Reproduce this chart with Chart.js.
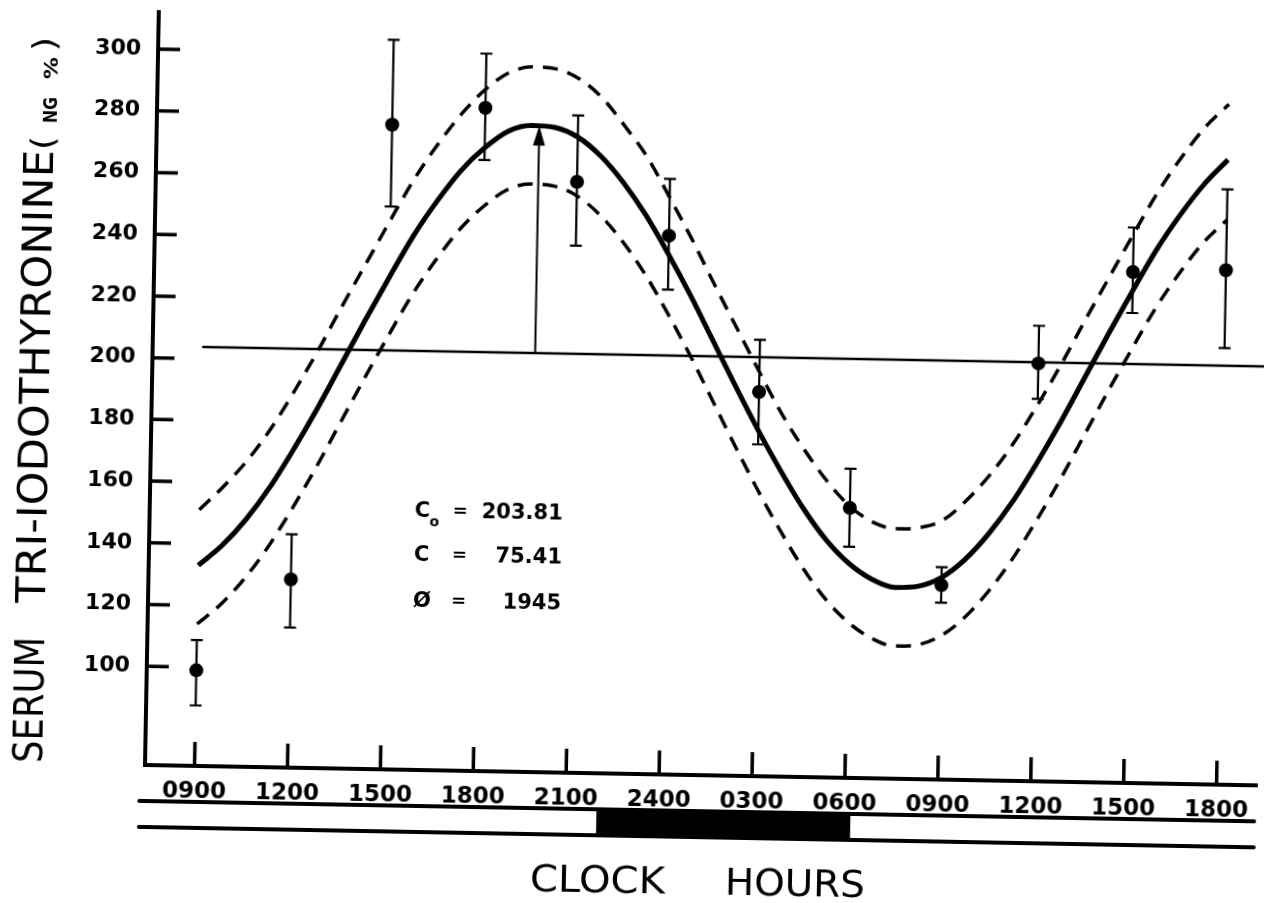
<!DOCTYPE html>
<html>
<head>
<meta charset="utf-8">
<script src="https://cdn.jsdelivr.net/npm/chart.js@4.4.0/dist/chart.umd.min.js"></script>
<style>
    html, body { margin: 0; padding: 0; background: #fff; overflow: hidden; }
    /* the scanned figure sits a little askew, so the canvas is turned to match */
    #t3Chart { display: block; transform: rotate(1.05deg); transform-origin: 145px 765px; }
</style>
</head>
<body>
<canvas id="t3Chart" width="1264" height="903"></canvas>
<script>
// clock hours counted from 0000 of day 1 (0900 = 9, next day 0900 = 33)
const tickHours = [9, 12, 15, 18, 21, 24, 27, 30, 33, 36, 39, 42]
const tickLabels = ['0900', '1200', '1500', '1800', '2100', '2400', '0300', '0600', '0900', '1200', '1500', '1800']
const yTicks = [100, 120, 140, 160, 180, 200, 220, 240, 260, 280, 300]

// measured serum T3 (ng %), mean with bar ends
const sampleHours = [9, 12, 15, 18, 21, 24, 27, 30, 33, 36, 39, 42]
const meanT3 = [99.0, 129.0, 276.9, 282.9, 259.5, 242.6, 192.5, 155.5, 131.0, 203.4, 233.6, 234.7]
const barHigh = [108.8, 143.6, 304.4, 300.5, 281.0, 261.0, 209.4, 168.2, 136.8, 215.6, 248.0, 260.9]
const barLow = [87.6, 113.4, 250.4, 266.0, 238.8, 225.1, 175.5, 142.9, 125.3, 191.9, 220.3, 209.5]

// fitted cosine and the dashed band, every 0.75 h
const fitHours = [9, 9.75, 10.5, 11.25, 12, 12.75, 13.5, 14.25, 15, 15.75, 16.5, 17.25, 18, 18.75, 19.5, 20.25,
    21, 21.75, 22.5, 23.25, 24, 24.75, 25.5, 26.25, 27, 27.75, 28.5, 29.25, 30, 30.75, 31.5, 32.25,
    33, 33.75, 34.5, 35.25, 36, 36.75, 37.5, 38.25, 39, 39.75, 40.5, 41.25, 42]
const fitCurve = [133, 139.5, 148, 158.5, 171, 184.5, 199, 213.5, 227.5, 241, 252.5, 262.5, 270, 275.5, 277.5, 277,
    274, 268, 259.5, 249, 236.5, 223, 208.5, 194, 180, 167, 155, 145, 137.5, 132.5, 130, 130.5,
    133.5, 139.5, 148, 158.5, 171, 184.5, 199, 213.5, 227.5, 241, 252.5, 262.5, 270.5]
const fitUpper = [151, 158.5, 167, 177.5, 190, 203.5, 218, 232, 246, 259.5, 271, 281, 289, 294.5, 296.5, 296,
    293, 287, 278, 268, 255, 241.5, 227, 213, 199, 185.5, 174, 164, 156, 151, 149, 149.5,
    152, 158.5, 167, 177.5, 190, 203.5, 218, 232, 246, 259.5, 271, 281, 288.5]
const fitLower = [114, 120.5, 129, 139.5, 152, 165.5, 180, 194.5, 208.5, 222, 233.5, 243.5, 251, 256.5, 258.5, 258,
    255, 249, 240.5, 230, 217.5, 204, 189.5, 175, 161, 148, 136, 126, 118.5, 113.5, 111, 111.5,
    114.5, 120.5, 129, 139.5, 152, 165.5, 180, 194.5, 208.5, 222, 233.5, 243.5, 251]

const mesor = 203.81
const acrophaseHour = 19.75
const acrophasePeak = 277.5
const darkStart = 22
const darkEnd = 30.2
const noteLines = [['C', 'o', '203.81'], ['C', '', '75.41'], ['Ø', '', '1945']]

const FONT = "'DejaVu Sans', sans-serif"
const toPoints = (xs, ys) => xs.map((x, i) => ({x, y: ys[i]}))

// draws text squeezed or stretched to a given width
const fitText = (ctx, text, x, y, width, font) => {
    ctx.font = font
    const w = ctx.measureText(text).width
    ctx.save()
    ctx.translate(x, y)
    ctx.scale(width / w, 1)
    ctx.fillText(text, 0, 0)
    ctx.restore()
}

const figurePlugin = {
    id: 'figure',
    beforeDatasetsDraw(chart) {
        const {ctx, chartArea, scales: {x, y}} = chart
        ctx.save()
        ctx.strokeStyle = '#000'
        ctx.fillStyle = '#000'

        // mesor line
        ctx.lineWidth = 2.5
        ctx.beginPath()
        ctx.moveTo(x.getPixelForValue(9), y.getPixelForValue(mesor))
        ctx.lineTo(chartArea.right + 3, y.getPixelForValue(mesor))
        ctx.stroke()

        // acrophase arrow
        const ax = x.getPixelForValue(acrophaseHour)
        const tip = y.getPixelForValue(acrophasePeak)
        ctx.lineWidth = 2
        ctx.beginPath()
        ctx.moveTo(ax, y.getPixelForValue(mesor))
        ctx.lineTo(ax, tip + 16)
        ctx.stroke()
        ctx.beginPath()
        ctx.moveTo(ax, tip)
        ctx.lineTo(ax - 6, tip + 20)
        ctx.lineTo(ax + 6, tip + 20)
        ctx.closePath()
        ctx.fill()

        // bars
        ctx.lineWidth = 2.2
        sampleHours.forEach((h, i) => {
            const px = x.getPixelForValue(h)
            const top = y.getPixelForValue(barHigh[i])
            const bot = y.getPixelForValue(barLow[i])
            ctx.beginPath()
            ctx.moveTo(px, top)
            ctx.lineTo(px, bot)
            ctx.moveTo(px - 6, top)
            ctx.lineTo(px + 6, top)
            ctx.moveTo(px - 6, bot)
            ctx.lineTo(px + 6, bot)
            ctx.stroke()
        })
        ctx.restore()
    },
    afterDraw(chart) {
        const {ctx, chartArea, scales: {x, y}} = chart
        ctx.save()
        ctx.strokeStyle = '#000'
        ctx.fillStyle = '#000'

        // inward tick marks
        ctx.lineWidth = 3.5
        ctx.beginPath()
        yTicks.forEach(v => {
            const py = y.getPixelForValue(v)
            ctx.moveTo(chartArea.left, py)
            ctx.lineTo(chartArea.left + 22, py)
        })
        tickHours.forEach(h => {
            const px = x.getPixelForValue(h)
            ctx.moveTo(px, chartArea.bottom)
            ctx.lineTo(px, chartArea.bottom - 24)
        })
        ctx.stroke()

        // light / dark bar
        ctx.lineWidth = 4
        ctx.lineCap = 'round'
        ctx.beginPath()
        ctx.moveTo(140, 801)
        ctx.lineTo(1255, 801)
        ctx.moveTo(140, 827)
        ctx.lineTo(1255, 827)
        ctx.stroke()
        const d0 = x.getPixelForValue(darkStart)
        const d1 = x.getPixelForValue(darkEnd)
        ctx.fillRect(d0, 801, d1 - d0, 28)

        // axis titles
        ctx.textBaseline = 'alphabetic'
        ctx.textAlign = 'left'
        fitText(ctx, 'CLOCK', 532, 884, 135, `37px ${FONT}`)
        fitText(ctx, 'HOURS', 727, 884, 140, `37px ${FONT}`)

        ctx.save()
        ctx.translate(42, 765)
        ctx.rotate(-Math.PI / 2)
        fitText(ctx, 'SERUM', 0, 0, 126, `40px ${FONT}`)
        fitText(ctx, 'TRI-IODOTHYRONINE', 160, 0, 453, `40px ${FONT}`)
        fitText(ctx, '(', 613, 0, 14, `32px ${FONT}`)
        fitText(ctx, 'NG', 640, 3, 26, `bold 20px ${FONT}`)
        fitText(ctx, '%', 684, 3, 22, `bold 20px ${FONT}`)
        fitText(ctx, ')', 712, 0, 14, `32px ${FONT}`)
        ctx.restore()

        // cosinor parameters
        const rows = [512, 556, 602]
        noteLines.forEach(([sym, sub, val], i) => {
            const by = rows[i]
            ctx.font = `bold 21px ${FONT}`
            ctx.textAlign = 'left'
            ctx.fillText(sym, 410, by)
            if (sub) {
                ctx.font = `bold 14px ${FONT}`
                ctx.fillText(sub, 425, by + 9)
            }
            ctx.font = `bold 18px ${FONT}`
            ctx.fillText('=', 448, by - 1)
            ctx.font = `bold 21px ${FONT}`
            ctx.textAlign = 'right'
            ctx.fillText(val, 558, by)
        })
        ctx.restore()
    }
}

const axisBorder = {display: true, color: '#000', width: 4}
const curveStyle = {showLine: true, borderColor: '#000', cubicInterpolationMode: 'monotone', pointRadius: 0}

new Chart(document.getElementById('t3Chart'), {
    type: 'scatter',
    data: {
        datasets: [
            {...curveStyle, data: toPoints(fitHours, fitUpper), borderWidth: 3.5, borderDash: [15, 10]},
            {...curveStyle, data: toPoints(fitHours, fitLower), borderWidth: 3.5, borderDash: [15, 10]},
            {...curveStyle, data: toPoints(fitHours, fitCurve), borderWidth: 5},
            {
                data: toPoints(sampleHours, meanT3),
                showLine: false,
                pointRadius: 7,
                pointBackgroundColor: '#000',
                pointBorderColor: '#000',
                pointBorderWidth: 0
            }
        ]
    },
    plugins: [figurePlugin],
    options: {
        responsive: false,
        animation: false,
        devicePixelRatio: 1,
        layout: {padding: {top: 12, right: 3, left: 0, bottom: 0}},
        plugins: {legend: {display: false}, tooltip: {enabled: false}},
        scales: {
            x: {
                type: 'linear',
                min: 7.4,
                max: 43.3,
                afterBuildTicks: s => { s.ticks = tickHours.map(value => ({value})) },
                afterFit: s => { s.height = 138; s.paddingLeft = 0; s.paddingRight = 0 },
                grid: {display: false, drawTicks: false},
                border: axisBorder,
                ticks: {
                    callback: (v, i) => tickLabels[i],
                    color: '#000',
                    font: {family: FONT, size: 23, weight: 'bold'},
                    padding: 12,
                    maxRotation: 0,
                    autoSkip: false
                }
            },
            y: {
                type: 'linear',
                min: 68,
                max: 312,
                afterBuildTicks: s => { s.ticks = yTicks.map(value => ({value})) },
                afterFit: s => { s.width = 145; s.paddingTop = 0; s.paddingBottom = 0 },
                grid: {display: false, drawTicks: false},
                border: axisBorder,
                ticks: {
                    color: '#000',
                    font: {family: FONT, size: 22, weight: 'bold'},
                    padding: 17
                }
            }
        }
    }
});
</script>
</body>
</html>
